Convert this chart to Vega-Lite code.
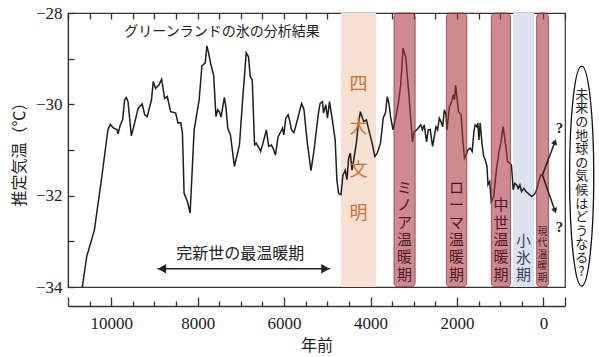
{
  "$schema": "https://vega.github.io/schema/vega-lite/v6.json",
  "width": 497,
  "height": 274,
  "autosize": {"type": "none"},
  "padding": {"left": 68, "top": 13, "right": 35, "bottom": 70},
  "background": "white",
  "config": {
    "view": {"stroke": "#333", "strokeWidth": 1.2},
    "font": "Noto Sans CJK JP"
  },
  "datasets": {
    "temp": [
      {"year": 10669, "t": -34.0}, {"year": 10566, "t": -33.33}, {"year": 10389, "t": -32.75}, {"year": 10217, "t": -31.58},
      {"year": 10077, "t": -30.56}, {"year": 10023, "t": -30.44}, {"year": 9946, "t": -30.52}, {"year": 9867, "t": -30.55},
      {"year": 9844, "t": -30.65}, {"year": 9790, "t": -30.45}, {"year": 9736, "t": -30.34}, {"year": 9690, "t": -29.9},
      {"year": 9650, "t": -29.85}, {"year": 9611, "t": -29.94}, {"year": 9534, "t": -30.69}, {"year": 9441, "t": -30.34},
      {"year": 9378, "t": -30.09}, {"year": 9285, "t": -29.99}, {"year": 9224, "t": -30.23}, {"year": 9168, "t": -30.27},
      {"year": 9068, "t": -29.9}, {"year": 9028, "t": -29.5}, {"year": 8974, "t": -29.65}, {"year": 8897, "t": -29.58},
      {"year": 8834, "t": -29.45}, {"year": 8765, "t": -29.87}, {"year": 8702, "t": -29.83}, {"year": 8625, "t": -30.16},
      {"year": 8547, "t": -30.18}, {"year": 8508, "t": -30.19}, {"year": 8454, "t": -30.41}, {"year": 8392, "t": -30.4},
      {"year": 8352, "t": -30.63}, {"year": 8314, "t": -31.95}, {"year": 8236, "t": -32.13}, {"year": 8174, "t": -32.38},
      {"year": 8081, "t": -30.56}, {"year": 7965, "t": -29.9}, {"year": 7902, "t": -29.16}, {"year": 7825, "t": -29.09},
      {"year": 7786, "t": -28.72}, {"year": 7746, "t": -28.88}, {"year": 7692, "t": -29.14}, {"year": 7630, "t": -29.36},
      {"year": 7576, "t": -30.27}, {"year": 7536, "t": -30.12}, {"year": 7498, "t": -30.16}, {"year": 7459, "t": -30.28},
      {"year": 7382, "t": -29.85}, {"year": 7343, "t": -30.09}, {"year": 7304, "t": -30.52}, {"year": 7242, "t": -30.67},
      {"year": 7149, "t": -31.36}, {"year": 7033, "t": -30.89}, {"year": 6954, "t": -29.83}, {"year": 6876, "t": -28.87},
      {"year": 6823, "t": -28.96}, {"year": 6783, "t": -29.39}, {"year": 6737, "t": -29.47}, {"year": 6683, "t": -30.89},
      {"year": 6643, "t": -30.85}, {"year": 6589, "t": -30.94}, {"year": 6543, "t": -31.03}, {"year": 6488, "t": -30.85},
      {"year": 6410, "t": -30.56}, {"year": 6356, "t": -30.92}, {"year": 6294, "t": -30.89}, {"year": 6255, "t": -30.96},
      {"year": 6200, "t": -31.11}, {"year": 6138, "t": -30.71}, {"year": 6077, "t": -30.6}, {"year": 6037, "t": -30.52},
      {"year": 6007, "t": -30.67}, {"year": 5960, "t": -30.3}, {"year": 5905, "t": -30.23}, {"year": 5867, "t": -30.38},
      {"year": 5828, "t": -30.56}, {"year": 5773, "t": -30.62}, {"year": 5711, "t": -30.41}, {"year": 5594, "t": -29.98},
      {"year": 5541, "t": -30.11}, {"year": 5462, "t": -30.85}, {"year": 5377, "t": -31.45}, {"year": 5307, "t": -31.0},
      {"year": 5205, "t": -30.19}, {"year": 5167, "t": -29.98}, {"year": 5112, "t": -29.94}, {"year": 5089, "t": -30.19},
      {"year": 5035, "t": -30.01}, {"year": 4996, "t": -30.3}, {"year": 4949, "t": -29.94}, {"year": 4895, "t": -30.27},
      {"year": 4817, "t": -30.78}, {"year": 4779, "t": -31.65}, {"year": 4739, "t": -31.95}, {"year": 4685, "t": -31.98},
      {"year": 4639, "t": -31.55}, {"year": 4585, "t": -31.44}, {"year": 4545, "t": -31.65}, {"year": 4506, "t": -31.18},
      {"year": 4468, "t": -31.07}, {"year": 4429, "t": -31.44}, {"year": 4390, "t": -31.22}, {"year": 4328, "t": -30.85},
      {"year": 4289, "t": -30.49}, {"year": 4235, "t": -30.16}, {"year": 4196, "t": -30.27}, {"year": 4157, "t": -30.38},
      {"year": 4095, "t": -30.34}, {"year": 4040, "t": -30.56}, {"year": 3963, "t": -30.85}, {"year": 3900, "t": -31.14},
      {"year": 3846, "t": -31.07}, {"year": 3769, "t": -30.85}, {"year": 3706, "t": -30.3}, {"year": 3652, "t": -30.18},
      {"year": 3613, "t": -29.83}, {"year": 3574, "t": -29.98}, {"year": 3536, "t": -30.27}, {"year": 3480, "t": -30.56},
      {"year": 3419, "t": -30.3}, {"year": 3357, "t": -29.98}, {"year": 3302, "t": -29.58}, {"year": 3247, "t": -28.77},
      {"year": 3186, "t": -28.96}, {"year": 3124, "t": -29.65}, {"year": 3030, "t": -30.82}, {"year": 2991, "t": -30.6},
      {"year": 2929, "t": -30.56}, {"year": 2874, "t": -30.49}, {"year": 2836, "t": -30.45}, {"year": 2797, "t": -30.56},
      {"year": 2758, "t": -30.45}, {"year": 2704, "t": -30.82}, {"year": 2664, "t": -30.56}, {"year": 2618, "t": -30.55},
      {"year": 2564, "t": -30.92}, {"year": 2525, "t": -30.71}, {"year": 2487, "t": -30.49}, {"year": 2448, "t": -30.56},
      {"year": 2408, "t": -30.3}, {"year": 2370, "t": -30.38}, {"year": 2331, "t": -30.49}, {"year": 2292, "t": -30.12},
      {"year": 2253, "t": -30.23}, {"year": 2230, "t": -30.56}, {"year": 2175, "t": -30.05}, {"year": 2137, "t": -29.98},
      {"year": 2082, "t": -29.79}, {"year": 2058, "t": -29.9}, {"year": 2030, "t": -29.58}, {"year": 1965, "t": -30.16},
      {"year": 1904, "t": -30.23}, {"year": 1865, "t": -30.78}, {"year": 1825, "t": -31.18}, {"year": 1772, "t": -31.07},
      {"year": 1748, "t": -31.0}, {"year": 1695, "t": -30.96}, {"year": 1648, "t": -31.03}, {"year": 1608, "t": -30.6},
      {"year": 1578, "t": -30.45}, {"year": 1538, "t": -30.49}, {"year": 1515, "t": -30.41}, {"year": 1492, "t": -30.78},
      {"year": 1462, "t": -30.41}, {"year": 1422, "t": -30.85}, {"year": 1382, "t": -31.14}, {"year": 1345, "t": -31.22},
      {"year": 1305, "t": -31.36}, {"year": 1282, "t": -31.76}, {"year": 1243, "t": -31.69}, {"year": 1205, "t": -32.13},
      {"year": 1149, "t": -32.02}, {"year": 1088, "t": -31.44}, {"year": 1033, "t": -31.07}, {"year": 986, "t": -30.85},
      {"year": 932, "t": -30.49}, {"year": 869, "t": -30.92}, {"year": 832, "t": -31.25}, {"year": 776, "t": -31.29},
      {"year": 739, "t": -31.33}, {"year": 699, "t": -31.87}, {"year": 660, "t": -31.73}, {"year": 622, "t": -31.76},
      {"year": 583, "t": -31.84}, {"year": 544, "t": -31.76}, {"year": 506, "t": -31.91}, {"year": 451, "t": -31.84},
      {"year": 404, "t": -31.91}, {"year": 350, "t": -31.95}, {"year": 273, "t": -32.02}, {"year": 217, "t": -31.98},
      {"year": 170, "t": -31.91}, {"year": 117, "t": -31.73}, {"year": 63, "t": -31.55}, {"year": 23, "t": -31.55}
    ],
    "periods": [
      {"name": "四大文明", "start": 4685, "end": 3870, "kind": "civ"},
      {"name": "ミノア温暖期", "start": 3457, "end": 2967, "kind": "warm"},
      {"name": "ローマ温暖期", "start": 2245, "end": 1772, "kind": "warm"},
      {"name": "中世温暖期", "start": 1205, "end": 762, "kind": "warm"},
      {"name": "小氷期", "start": 700, "end": 217, "kind": "cold"},
      {"name": "現代温暖期", "start": 156, "end": -117, "kind": "warm"}
    ],
    "notes": [
      {"g": "title", "text": "グリーンランドの氷の分析結果", "year": 7436, "t": -28.42},
      {"g": "civ", "text": "四\n大\n文\n明", "year": 4277, "t": -29.58},
      {"g": "warm", "text": "ミ\nノ\nア\n温\n暖\n期", "year": 3212, "t": -31.83},
      {"g": "warm", "text": "ロ\nー\nマ\n温\n暖\n期", "year": 2008, "t": -31.83},
      {"g": "warm", "text": "中\n世\n温\n暖\n期", "year": 983, "t": -32.21},
      {"g": "cold", "text": "小\n氷\n期", "year": 458, "t": -32.99},
      {"g": "modern", "text": "現\n代\n温\n暖\n期", "year": 20, "t": -32.79},
      {"g": "holo", "text": "完新世の最温暖期", "year": 7016, "t": -33.27},
      {"g": "future", "text": "未\n来\nの\n地\n球\nの\n気\n候\nは\nど\nう\nな\nる\n?", "year": -886, "t": -29.79},
      {"g": "q", "text": "?", "year": -373, "t": -30.52},
      {"g": "q", "text": "?", "year": -373, "t": -32.68}
    ],
    "arrows": [
      {"g": "holo", "x0": 8930, "t0": -33.6, "x1": 4940, "t1": -33.6},
      {"g": "up", "x0": 23, "t0": -31.55, "x1": -268, "t1": -30.82},
      {"g": "down", "x0": 23, "t0": -31.55, "x1": -268, "t1": -32.33}
    ],
    "heads": [
      {"g": "left", "year": 8825, "t": -33.6},
      {"g": "right", "year": 5045, "t": -33.6},
      {"g": "up", "year": -268, "t": -30.82},
      {"g": "down", "year": -268, "t": -32.33}
    ],
    "bubble": [{"year": -886, "t": -31.57}]
  },
  "layer": [
    {
      "data": {"name": "periods"},
      "transform": [{"filter": "datum.kind !== 'warm'"}],
      "mark": {"type": "rect"},
      "encoding": {
        "x": {
          "field": "start", "type": "quantitative",
          "scale": {"domain": [-500, 11000], "reverse": true, "nice": false, "zero": false},
          "axis": {
            "orient": "top", "values": [11000, 10500, 10000, 9500, 9000, 8500, 8000, 7500, 7000, 6500, 6000, 5500, 5000, 4500, 4000, 3500, 3000, 2500, 2000, 1500, 1000, 500, 0, -500],
            "labels": false, "domain": false, "tickSize": -6, "tickColor": "#333", "tickWidth": 1.3, "title": null, "grid": false
          }
        },
        "x2": {"field": "end"},
        "y": {"datum": -28},
        "y2": {"datum": -34},
        "color": {"field": "kind", "type": "nominal", "scale": {"domain": ["civ", "cold"], "range": ["#f6e1d3", "#dde2f1"]}, "legend": null}
      }
    },
    {
      "data": {"name": "temp"},
      "mark": {"type": "line", "color": "#1e1e1e", "strokeWidth": 1.5},
      "encoding": {
        "x": {
          "field": "year", "type": "quantitative",
          "axis": {
            "orient": "bottom", "offset": 19, "title": "年前", "titleFont": "Noto Sans CJK JP", "titleFontSize": 16, "titleFontWeight": "normal", "titleColor": "#222", "titlePadding": 2,
            "values": [11000, 10500, 10000, 9500, 9000, 8500, 8000, 7500, 7000, 6500, 6000, 5500, 5000, 4500, 4000, 3500, 3000, 2500, 2000, 1500, 1000, 500, 0, -500],
            "labelExpr": "datum.value % 2000 === 0 && datum.value >= 0 && datum.value <= 10000 ? datum.value + '' : ''",
            "tickSize": {"condition": {"test": "datum.value % 2000 === 0 || datum.value === 11000 || datum.value === -500", "value": -9}, "value": -5},
            "labelPadding": 18, "labelFont": "Liberation Serif", "labelFontSize": 17, "labelColor": "#222",
            "domainColor": "#333", "domainWidth": 1.3, "tickColor": "#333", "tickWidth": 1.3, "grid": false, "labelFlush": false, "labelOverlap": false
          }
        },
        "y": {
          "field": "t", "type": "quantitative",
          "scale": {"domain": [-34, -28], "nice": false, "zero": false},
          "axis": {
            "title": "推定気温（℃）", "titleFont": "Noto Sans CJK JP", "titleFontSize": 16, "titleFontWeight": "normal", "titleColor": "#222", "titlePadding": 8,
            "values": [-34, -33.5, -33, -32.5, -32, -31.5, -31, -30.5, -30, -29.5, -29, -28.5, -28],
            "labelExpr": "datum.value % 2 === 0 ? '−' + abs(datum.value) : ''",
            "tickSize": -6, "labelPadding": 12, "labelFont": "Liberation Serif", "labelFontSize": 17, "labelColor": "#222",
            "domainColor": "#333", "domainWidth": 1.2, "tickColor": "#333", "tickWidth": 1.3, "grid": false, "labelOverlap": false
          }
        }
      }
    },
    {
      "data": {"name": "periods"},
      "transform": [{"filter": "datum.kind === 'warm'"}],
      "mark": {"type": "rect", "color": "#ab3441", "fillOpacity": 0.58, "stroke": "#7e2f38", "strokeOpacity": 0.7, "strokeWidth": 1, "cornerRadius": 4},
      "encoding": {
        "x": {"field": "start", "type": "quantitative", "axis": null},
        "x2": {"field": "end"},
        "y": {"datum": -28},
        "y2": {"datum": -34}
      }
    },
    {
      "data": {"name": "notes"},
      "transform": [{"filter": "datum.g === 'title'"}],
      "mark": {"type": "text", "font": "Noto Sans CJK JP", "fontSize": 14, "color": "#222", "align": "center", "baseline": "middle"},
      "encoding": {"x": {"field": "year", "type": "quantitative", "axis": null}, "y": {"field": "t", "type": "quantitative"}, "text": {"field": "text"}}
    },
    {
      "data": {"name": "notes"},
      "transform": [{"filter": "datum.g === 'civ'"}],
      "mark": {"type": "text", "font": "Noto Sans CJK JP", "fontSize": 18, "color": "#cf7230", "align": "center", "baseline": "middle", "lineBreak": "\n", "lineHeight": 43},
      "encoding": {"x": {"field": "year", "type": "quantitative", "axis": null}, "y": {"field": "t", "type": "quantitative"}, "text": {"field": "text"}}
    },
    {
      "data": {"name": "notes"},
      "transform": [{"filter": "datum.g === 'warm'"}],
      "mark": {"type": "text", "font": "Noto Sans CJK JP", "fontSize": 15, "color": "#4f1822", "align": "center", "baseline": "middle", "lineBreak": "\n", "lineHeight": 17.4},
      "encoding": {"x": {"field": "year", "type": "quantitative", "axis": null}, "y": {"field": "t", "type": "quantitative"}, "text": {"field": "text"}}
    },
    {
      "data": {"name": "notes"},
      "transform": [{"filter": "datum.g === 'cold'"}],
      "mark": {"type": "text", "font": "Noto Sans CJK JP", "fontSize": 15, "color": "#3b4266", "align": "center", "baseline": "middle", "lineBreak": "\n", "lineHeight": 17},
      "encoding": {"x": {"field": "year", "type": "quantitative", "axis": null}, "y": {"field": "t", "type": "quantitative"}, "text": {"field": "text"}}
    },
    {
      "data": {"name": "notes"},
      "transform": [{"filter": "datum.g === 'modern'"}],
      "mark": {"type": "text", "font": "Noto Sans CJK JP", "fontSize": 10, "color": "#4f1822", "align": "center", "baseline": "middle", "lineBreak": "\n", "lineHeight": 11.5},
      "encoding": {"x": {"field": "year", "type": "quantitative", "axis": null}, "y": {"field": "t", "type": "quantitative"}, "text": {"field": "text"}}
    },
    {
      "data": {"name": "notes"},
      "transform": [{"filter": "datum.g === 'holo'"}],
      "mark": {"type": "text", "font": "Noto Sans CJK JP", "fontSize": 16, "color": "#222", "align": "center", "baseline": "middle"},
      "encoding": {"x": {"field": "year", "type": "quantitative", "axis": null}, "y": {"field": "t", "type": "quantitative"}, "text": {"field": "text"}}
    },
    {
      "data": {"name": "notes"},
      "transform": [{"filter": "datum.g === 'future'"}],
      "mark": {"type": "text", "font": "Noto Sans CJK JP", "fontSize": 13, "color": "#222", "align": "center", "baseline": "middle", "lineBreak": "\n", "lineHeight": 13.6},
      "encoding": {"x": {"field": "year", "type": "quantitative", "axis": null}, "y": {"field": "t", "type": "quantitative"}, "text": {"field": "text"}}
    },
    {
      "data": {"name": "notes"},
      "transform": [{"filter": "datum.g === 'q'"}],
      "mark": {"type": "text", "font": "Liberation Serif", "fontSize": 15, "fontWeight": "bold", "color": "#222", "align": "center", "baseline": "middle"},
      "encoding": {"x": {"field": "year", "type": "quantitative", "axis": null}, "y": {"field": "t", "type": "quantitative"}, "text": {"field": "text"}}
    },
    {
      "data": {"name": "arrows"},
      "mark": {"type": "rule", "color": "#222", "strokeWidth": 1.5},
      "encoding": {
        "x": {"field": "x0", "type": "quantitative", "axis": null},
        "x2": {"field": "x1"},
        "y": {"field": "t0", "type": "quantitative"},
        "y2": {"field": "t1"}
      }
    },
    {
      "data": {"name": "heads"},
      "transform": [{"filter": "datum.g === 'left'"}],
      "mark": {"type": "point", "shape": "triangle-left", "filled": true, "color": "#222", "size": 90, "opacity": 1},
      "encoding": {"x": {"field": "year", "type": "quantitative", "axis": null}, "y": {"field": "t", "type": "quantitative"}}
    },
    {
      "data": {"name": "heads"},
      "transform": [{"filter": "datum.g === 'right'"}],
      "mark": {"type": "point", "shape": "triangle-right", "filled": true, "color": "#222", "size": 90, "opacity": 1},
      "encoding": {"x": {"field": "year", "type": "quantitative", "axis": null}, "y": {"field": "t", "type": "quantitative"}}
    },
    {
      "data": {"name": "heads"},
      "transform": [{"filter": "datum.g === 'up'"}],
      "mark": {"type": "point", "shape": "triangle-up", "filled": true, "color": "#222", "size": 40, "opacity": 1, "angle": 20},
      "encoding": {"x": {"field": "year", "type": "quantitative", "axis": null}, "y": {"field": "t", "type": "quantitative"}}
    },
    {
      "data": {"name": "heads"},
      "transform": [{"filter": "datum.g === 'down'"}],
      "mark": {"type": "point", "shape": "triangle-down", "filled": true, "color": "#222", "size": 40, "opacity": 1, "angle": -18},
      "encoding": {"x": {"field": "year", "type": "quantitative", "axis": null}, "y": {"field": "t", "type": "quantitative"}}
    },
    {
      "data": {"name": "bubble"},
      "mark": {"type": "point", "shape": "M0,-1A0.11,1,0,0,1,0,1A0.11,1,0,0,1,0,-1Z", "filled": false, "color": "#111", "strokeWidth": 1.3, "size": 48400, "opacity": 1},
      "encoding": {"x": {"field": "year", "type": "quantitative", "axis": null}, "y": {"field": "t", "type": "quantitative"}}
    }
  ],
  "resolve": {"axis": {"x": "independent"}}
}
